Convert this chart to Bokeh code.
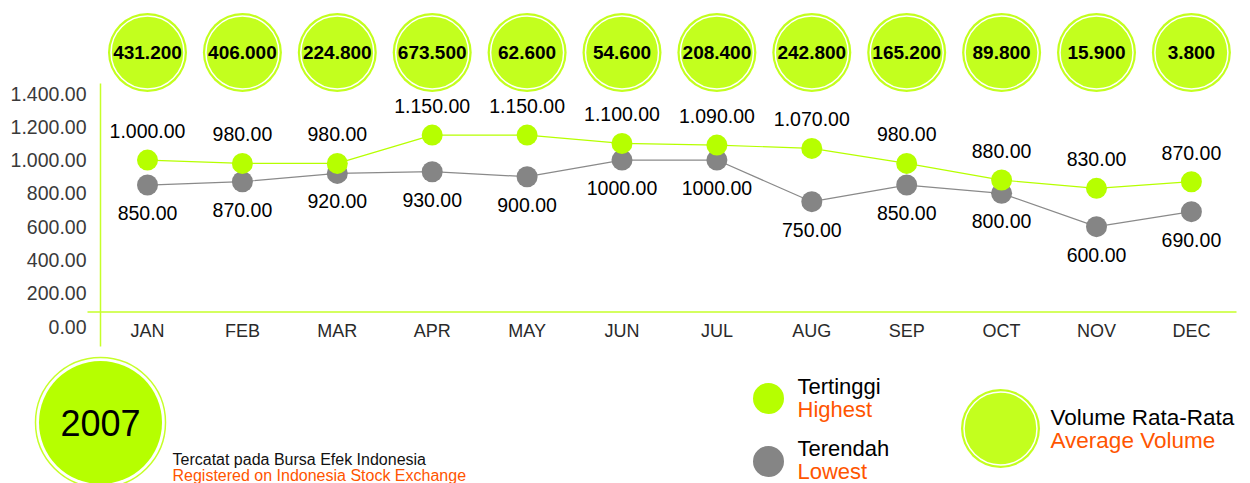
import numpy as np
from bokeh.plotting import figure
from bokeh.models import Range1d, ColumnDataSource
from bokeh.core.properties import value
from bokeh.embed import file_html
from bokeh.resources import INLINE

# ---------------- data ----------------
months = ["JAN", "FEB", "MAR", "APR", "MAY", "JUN", "JUL", "AUG", "SEP", "OCT", "NOV", "DEC"]
highest = [1000, 980, 980, 1150, 1150, 1100, 1090, 1070, 980, 880, 830, 870]
lowest = [850, 870, 920, 930, 900, 1000, 1000, 750, 850, 800, 600, 690]
avg_volume = [431.2, 406.0, 224.8, 673.5, 62.6, 54.6, 208.4, 242.8, 165.2, 89.8, 15.9, 3.8]
y_ticks = [0, 200, 400, 600, 800, 1000, 1200, 1400]
year_label = "2007"

# ---------------- styles ----------------
LIME = "#b6ff00"
BUBBLE = "#c3ff1e"
AXIS_LIME = "#c6ff2a"
GREY = "#858585"
ORANGE = "#ff5500"
FONT = value("Liberation Sans")

W, H = 1250, 483
X0, DX = 147.0, 94.9          # pixel position of JAN and month spacing
Y0, KY = 326.0, 233.0 / 1400  # pixel position of 0 and px per unit


def px_x(px):
    return (px - X0) / DX


def px_y(py):
    return (Y0 - py) / KY


def fmt_thousands(v):
    return f"{v:,.2f}".replace(",", ".")


p = figure(width=W, height=H, output_backend="svg", toolbar_location=None,
           x_range=Range1d(px_x(0), px_x(W)), y_range=Range1d(px_y(H), px_y(0)),
           x_axis_type=None, y_axis_type=None, min_border=0,
           outline_line_color=None, background_fill_color="white",
           border_fill_color="white")
p.grid.visible = False

x = np.arange(len(months))

# ---------------- axes (drawn manually) ----------------
p.segment(x0=[px_x(100)], y0=[px_y(83)], x1=[px_x(100)], y1=[px_y(346)],
          line_color=AXIS_LIME, line_width=1.5)
p.segment(x0=[px_x(87)], y0=[px_y(311.5)], x1=[px_x(1236)], y1=[px_y(311.5)],
          line_color=AXIS_LIME, line_width=1.5)

p.text(x=[px_x(86)] * len(y_ticks), y=y_ticks, text=[fmt_thousands(t) for t in y_ticks],
       text_align="right", text_baseline="middle", text_font=FONT,
       text_font_size="19.5px", text_color="#3a3a3a")

p.text(x=x, y=[px_y(330)] * len(months), text=months, text_align="center",
       text_baseline="middle", text_font=FONT, text_font_size="18px", text_color="#2a2a2a")

# ---------------- lines & points ----------------
src = ColumnDataSource(dict(
    x=x, hi=highest, lo=lowest,
    hi_lbl=[fmt_thousands(v) for v in highest],
    lo_lbl=[f"{v:.2f}" for v in lowest],
))
p.line("x", "lo", source=src, line_color="#8a8a8a", line_width=1.2)
p.line("x", "hi", source=src, line_color=LIME, line_width=1.2)
p.scatter("x", "lo", source=src, size=21, fill_color=GREY, line_color=None)
p.scatter("x", "hi", source=src, size=21, fill_color=LIME, line_color=None)

p.text("x", "hi", text="hi_lbl", source=src, y_offset=-29, text_align="center",
       text_baseline="middle", text_font=FONT, text_font_size="19.5px", text_color="#000000")
p.text("x", "lo", text="lo_lbl", source=src, y_offset=28, text_align="center",
       text_baseline="middle", text_font=FONT, text_font_size="19.5px", text_color="#000000")

# ---------------- volume bubbles ----------------
vol_y = [px_y(52)] * len(months)
p.scatter(x, vol_y, size=79, fill_color=BUBBLE, line_color=None)
p.scatter(x, vol_y, size=73, fill_color=None, line_color="white", line_width=1.5)
p.text(x, vol_y, text=[f"{v:.3f}" for v in avg_volume], text_align="center",
       text_baseline="middle", text_font=FONT, text_font_size="19px",
       text_color="#000000", text_font_style="bold")

# ---------------- year circle ----------------
p.scatter([px_x(100)], [px_y(422)], size=130, fill_color="white", line_color=AXIS_LIME, line_width=1.5)
p.scatter([px_x(100)], [px_y(422)], size=123, fill_color=LIME, line_color=None)
p.text([px_x(100)], [px_y(422)], text=[year_label], text_align="center",
       text_baseline="middle", text_font=FONT, text_font_size="36px", text_color="#000000")
p.text([px_x(172)], [px_y(459)], text=["Tercatat pada Bursa Efek Indonesia"], text_align="left",
       text_baseline="middle", text_font=FONT, text_font_size="16px", text_color="#111111")
p.text([px_x(172)], [px_y(475)], text=["Registered on Indonesia Stock Exchange"], text_align="left",
       text_baseline="middle", text_font=FONT, text_font_size="16px", text_color=ORANGE)

# ---------------- legend ----------------
p.scatter([px_x(768)], [px_y(398)], size=31, fill_color=LIME, line_color=None)
p.scatter([px_x(768)], [px_y(461)], size=31, fill_color=GREY, line_color=None)
p.text([px_x(797)], [px_y(386)], text=["Tertinggi"], text_baseline="middle", text_font=FONT,
       text_font_size="22px", text_color="#000000")
p.text([px_x(797)], [px_y(409)], text=["Highest"], text_baseline="middle", text_font=FONT,
       text_font_size="22px", text_color=ORANGE)
p.text([px_x(797)], [px_y(448)], text=["Terendah"], text_baseline="middle", text_font=FONT,
       text_font_size="22px", text_color="#000000")
p.text([px_x(797)], [px_y(471)], text=["Lowest"], text_baseline="middle", text_font=FONT,
       text_font_size="22px", text_color=ORANGE)

p.scatter([px_x(1000)], [px_y(428)], size=79, fill_color=BUBBLE, line_color=None)
p.scatter([px_x(1000)], [px_y(428)], size=73, fill_color=None, line_color="white", line_width=1.5)
p.text([px_x(1050)], [px_y(417)], text=["Volume Rata-Rata"], text_baseline="middle", text_font=FONT,
       text_font_size="22.5px", text_color="#000000")
p.text([px_x(1050)], [px_y(440)], text=["Average Volume"], text_baseline="middle", text_font=FONT,
       text_font_size="22.5px", text_color=ORANGE)

open("out.html", "w").write(file_html(p, INLINE))
